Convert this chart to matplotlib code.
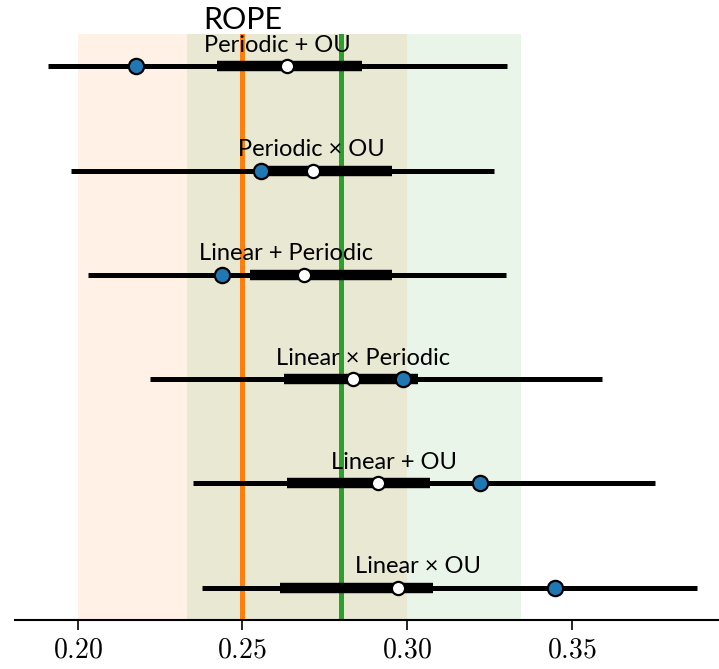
import matplotlib
matplotlib.use("Agg")
import matplotlib.pyplot as plt
import matplotlib.transforms as mtransforms

plt.rcParams["mathtext.fontset"] = "cm"
plt.rcParams["font.family"] = ["Lato", "DejaVu Sans"]

# Models listed from top to bottom
models = ["Periodic + OU", "Periodic × OU", "Linear + Periodic",
          "Linear × Periodic", "Linear + OU", "Linear × OU"]

# Posterior summaries per model
hdi_low = [0.1908, 0.1979, 0.2030, 0.2219, 0.2350, 0.2377]
hdi_high = [0.3304, 0.3264, 0.3301, 0.3593, 0.3754, 0.3881]
q_low = [0.2422, 0.2565, 0.2523, 0.2626, 0.2635, 0.2614]
q_high = [0.2862, 0.2954, 0.2954, 0.3033, 0.3070, 0.3079]
medians = [0.2635, 0.2714, 0.2687, 0.2836, 0.2912, 0.2973]
means = [0.2605, 0.2708, 0.2632, 0.2866, 0.2960, 0.3033]
reference = [0.2176, 0.2556, 0.2438, 0.2988, 0.3222, 0.3450]

# Regions of practical equivalence and their reference values
rope_a = (0.20, 0.30)
rope_b = (0.2333, 0.3347)
ref_a = 0.25
ref_b = 0.28

xticks = [0.20, 0.25, 0.30, 0.35]

fig = plt.figure(figsize=(7.19, 6.69), dpi=100)
ax = fig.add_axes([15 / 719, 49 / 669, 704 / 719, 586 / 669])

ax.axvspan(*rope_a, color="C1", alpha=0.1, lw=0, zorder=0)
ax.axvspan(*rope_b, color="C2", alpha=0.1, lw=0, zorder=0)
ax.axvline(ref_a, color="C1", lw=3.6, zorder=1)
ax.axvline(ref_b, color="C2", lw=3.6, zorder=1)

n = len(models)
for i, name in enumerate(models):
    y = n - 1 - i
    ax.plot([hdi_low[i], hdi_high[i]], [y, y], color="black", lw=3.6,
            solid_capstyle="butt", zorder=2)
    ax.plot([q_low[i], q_high[i]], [y, y], color="black", lw=7.5,
            solid_capstyle="butt", zorder=3)
    ax.plot(reference[i], y, "o", color="C0", mec="black", mew=1.6,
            ms=11, zorder=4)
    ax.plot(medians[i], y, "o", color="white", mec="black", mew=1.6,
            ms=9.5, zorder=5)
    ax.text(means[i], y + 0.1, name, ha="center", va="bottom",
            fontsize=17, zorder=6)

trans = mtransforms.blended_transform_factory(ax.transData, ax.transAxes)
ax.text(ref_a, 1.0, "ROPE", transform=trans, ha="center", va="bottom",
        fontsize=22)

ax.set_xlim(0.1809, 0.3948)
ax.set_ylim(-0.31, n - 1 + 0.31)
ax.set_xticks(xticks)
ax.set_xticklabels([f"${t:.2f}$" for t in xticks], fontsize=20)
ax.set_yticks([])
for side in ("top", "left", "right"):
    ax.spines[side].set_visible(False)
ax.spines["bottom"].set_linewidth(1.5)
ax.tick_params(axis="x", length=7, width=1.2, pad=5)

fig.savefig("out.png", dpi=100)
